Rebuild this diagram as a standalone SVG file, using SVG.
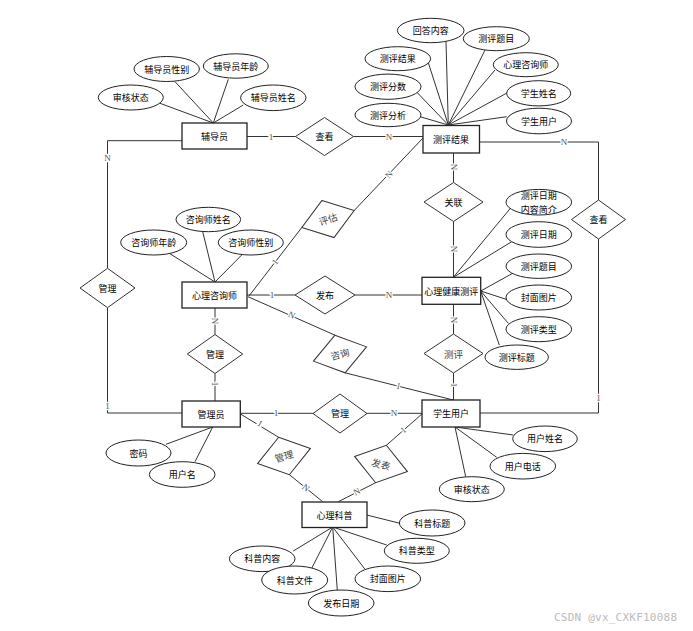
<svg xmlns="http://www.w3.org/2000/svg" width="693" height="631" viewBox="0 0 693 631">
<style>
.ln{stroke:#333;stroke-width:1;fill:none}
.ent{fill:#fff;stroke:#222;stroke-width:1.3}
.att{fill:#fff;stroke:#222;stroke-width:1}
.rel{fill:#fff;stroke:#333;stroke-width:1}
.t{font-family:"Noto Sans CJK SC","Noto Sans CJK TC",sans-serif;font-size:9px;fill:#000;text-anchor:middle;dominant-baseline:central}
.te{font-family:"Noto Sans CJK SC","Noto Sans CJK TC",sans-serif;font-size:9px;fill:#000;text-anchor:middle;dominant-baseline:central}
.tr{font-family:"Noto Sans CJK SC","Noto Sans CJK TC",sans-serif;font-size:9.5px;fill:#444;text-anchor:middle;dominant-baseline:central}
.lb{font-family:"Liberation Serif",serif;font-size:9px;fill:#555;text-anchor:middle;dominant-baseline:central;stroke:#fff;stroke-width:2.5;paint-order:stroke}
.wm{font-family:"DejaVu Sans Mono",monospace;font-size:11px;fill:#bbb}
</style>
<rect width="693" height="631" fill="#fff"/>
<g id="connectors">
<line class="ln" x1="213.3" y1="123" x2="160" y2="103.3"/>
<line class="ln" x1="213.3" y1="123" x2="175" y2="81.7"/>
<line class="ln" x1="213.3" y1="123" x2="228.3" y2="79.3"/>
<line class="ln" x1="213.3" y1="123" x2="243.3" y2="105"/>
<line class="ln" x1="448.3" y1="125" x2="446" y2="41.7"/>
<line class="ln" x1="448.3" y1="125" x2="485" y2="50"/>
<line class="ln" x1="448.3" y1="125" x2="428.3" y2="62.7"/>
<line class="ln" x1="448.3" y1="125" x2="495" y2="70"/>
<line class="ln" x1="448.3" y1="125" x2="417.3" y2="92.7"/>
<line class="ln" x1="448.3" y1="125" x2="509.3" y2="91.7"/>
<line class="ln" x1="448.3" y1="125" x2="420" y2="116.7"/>
<line class="ln" x1="448.3" y1="125" x2="506.7" y2="116.7"/>
<line class="ln" x1="215" y1="282" x2="202.7" y2="231.7"/>
<line class="ln" x1="215" y1="282" x2="169.3" y2="253.3"/>
<line class="ln" x1="215" y1="282" x2="241.7" y2="255"/>
<line class="ln" x1="453.3" y1="277.3" x2="511.7" y2="206.7"/>
<line class="ln" x1="453.3" y1="277.3" x2="511.7" y2="241.7"/>
<line class="ln" x1="480.7" y1="291" x2="512.7" y2="273.3"/>
<line class="ln" x1="480.7" y1="291" x2="508.3" y2="300"/>
<line class="ln" x1="480.7" y1="291" x2="508.3" y2="323.3"/>
<line class="ln" x1="480.7" y1="291" x2="499.3" y2="345"/>
<line class="ln" x1="212.7" y1="427" x2="166" y2="444.3"/>
<line class="ln" x1="212.7" y1="427" x2="195" y2="461.7"/>
<line class="ln" x1="455" y1="427" x2="513.3" y2="435"/>
<line class="ln" x1="455" y1="427" x2="496.7" y2="457.3"/>
<line class="ln" x1="455" y1="427" x2="465.7" y2="476.7"/>
<line class="ln" x1="366.7" y1="515" x2="400" y2="523.3"/>
<line class="ln" x1="332.7" y1="527" x2="386.7" y2="545"/>
<line class="ln" x1="332.7" y1="527" x2="365" y2="569.3"/>
<line class="ln" x1="332.7" y1="527" x2="293.3" y2="551"/>
<line class="ln" x1="332.7" y1="527" x2="311.7" y2="568.3"/>
<line class="ln" x1="332.7" y1="527" x2="337.3" y2="590"/>
<line class="ln" x1="247" y1="136.5" x2="295.5" y2="136.5"/>
<line class="ln" x1="353.5" y1="136.5" x2="423" y2="136.5"/>
<line class="ln" x1="453.5" y1="153" x2="453.5" y2="182.5"/>
<line class="ln" x1="453.5" y1="221.5" x2="453.5" y2="277"/>
<line class="ln" x1="453.5" y1="304" x2="453.5" y2="334"/>
<line class="ln" x1="453.5" y1="373" x2="453.5" y2="400"/>
<polyline class="ln" points="479,142 598.5,142 598.5,200"/>
<polyline class="ln" points="598.5,239 598.5,413 480,413"/>
<polyline class="ln" points="182,140.7 107.5,140.7 107.5,268.3"/>
<polyline class="ln" points="107.5,307.7 107.5,413 182,413"/>
<line class="ln" x1="247" y1="295" x2="295" y2="295"/>
<line class="ln" x1="355" y1="295" x2="422" y2="295"/>
<line class="ln" x1="215" y1="308" x2="215" y2="334.5"/>
<line class="ln" x1="215" y1="373.5" x2="215" y2="401"/>
<line class="ln" x1="240" y1="413.3" x2="313" y2="413.3"/>
<line class="ln" x1="367" y1="413.3" x2="422" y2="413.3"/>
<line class="ln" x1="249" y1="296" x2="301.8" y2="227.5"/>
<line class="ln" x1="354.2" y1="210.5" x2="423" y2="138"/>
<line class="ln" x1="248" y1="296.7" x2="335" y2="335.2"/>
<line class="ln" x1="345" y1="372.8" x2="453.3" y2="400"/>
<line class="ln" x1="240.5" y1="414" x2="278.6" y2="437.3"/>
<line class="ln" x1="289.4" y1="474.7" x2="322.7" y2="501.7"/>
<line class="ln" x1="422.7" y1="413.3" x2="386.4" y2="445.3"/>
<line class="ln" x1="375.6" y1="482.7" x2="338.3" y2="501.7"/>
<text class="lb" x="271" y="136.5">1</text>
<text class="lb" x="389" y="136.5">N</text>
<text class="lb" x="564" y="142">N</text>
<text class="lb" x="598.5" y="398">1</text>
<text class="lb" x="107.5" y="158">N</text>
<text class="lb" x="107.5" y="406">1</text>
<text class="lb" transform="translate(453.5,167) rotate(90)">N</text>
<text class="lb" transform="translate(453.5,249) rotate(90)">N</text>
<text class="lb" transform="translate(453.5,320) rotate(90)">N</text>
<text class="lb" transform="translate(453.5,385) rotate(90)">1</text>
<text class="lb" transform="translate(215,321) rotate(90)">N</text>
<text class="lb" transform="translate(215,384) rotate(90)">1</text>
<text class="lb" x="272" y="295">1</text>
<text class="lb" x="389" y="295">N</text>
<text class="lb" x="276" y="413.3">1</text>
<text class="lb" x="394" y="413.3">N</text>
<text class="lb" transform="translate(275,262) rotate(-52)">1</text>
<text class="lb" transform="translate(389,174.5) rotate(-47)">N</text>
<text class="lb" transform="translate(291.7,315) rotate(24)">N</text>
<text class="lb" transform="translate(398.3,386) rotate(14)">1</text>
<text class="lb" transform="translate(260,423.3) rotate(32)">1</text>
<text class="lb" transform="translate(306,487.7) rotate(39)">N</text>
<text class="lb" transform="translate(403.3,430) rotate(-41)">1</text>
<text class="lb" transform="translate(356.7,491.7) rotate(-27)">N</text>
</g>
<g id="e-fudaoyuan"><rect class="ent" x="182" y="123" width="65" height="26"/><text class="te" x="214.5" y="136">辅导员</text></g>
<g id="e-cepingjieguo"><rect class="ent" x="423" y="125.5" width="56.5" height="27.5"/><text class="te" x="451" y="139">测评结果</text></g>
<g id="e-zixunshi"><rect class="ent" x="182" y="282" width="65" height="26"/><text class="te" x="214.5" y="295">心理咨询师</text></g>
<g id="e-ceping"><rect class="ent" x="422" y="277.3" width="58.7" height="27"/><text class="te" x="451.3" y="291">心理健康测评</text></g>
<g id="e-guanliyuan"><rect class="ent" x="182" y="401" width="58.3" height="26"/><text class="te" x="211" y="414">管理员</text></g>
<g id="e-xuesheng"><rect class="ent" x="422" y="400" width="58" height="27"/><text class="te" x="451" y="413.5">学生用户</text></g>
<g id="e-kepu"><rect class="ent" x="302" y="502" width="65" height="25.5"/><text class="te" x="334.5" y="515">心理科普</text></g>
<g id="r-chakan1"><polygon class="rel" points="324.5,117.5 353.5,136.5 324.5,155.5 295.5,136.5"/><text class="te" x="324.5" y="136.5">查看</text></g>
<g id="r-guanlian"><polygon class="rel" points="453.5,182.5 483,202 453.5,221.5 424,202"/><text class="te" x="453.5" y="202">关联</text></g>
<g id="r-ceping"><polygon class="rel" points="453.5,334 483,353.5 453.5,373 424,353.5"/><text class="tr" x="453.5" y="353.5">测评</text></g>
<g id="r-chakan2"><polygon class="rel" points="598.5,200 625.5,219.5 598.5,239 571.5,219.5"/><text class="te" x="598.5" y="219.5">查看</text></g>
<g id="r-guanli1"><polygon class="rel" points="107.5,268.3 135,288 107.5,307.7 80,288"/><text class="te" x="107.5" y="288">管理</text></g>
<g id="r-fabu"><polygon class="rel" points="325,276 355,295 325,314 295,295"/><text class="te" x="325" y="295">发布</text></g>
<g id="r-guanli2"><polygon class="rel" points="215,334.5 242.7,354 215,373.5 187.3,354"/><text class="te" x="215" y="354">管理</text></g>
<g id="r-guanli3"><polygon class="rel" points="340,394 367,413.5 340,433 313,413.5"/><text class="te" x="340" y="413.5">管理</text></g>
<g id="r-pinggu" transform="translate(328,219) rotate(-18)"><polygon class="rel" points="0,-19.5 27.5,0 0,19.5 -27.5,0"/><text class="tr" x="0" y="0">评估</text></g>
<g id="r-zixun" transform="translate(340,354) rotate(-15)"><polygon class="rel" points="0,-19.5 27.5,0 0,19.5 -27.5,0"/><text class="tr" x="0" y="0">咨询</text></g>
<g id="r-guanli4" transform="translate(284,456) rotate(-16)"><polygon class="rel" points="0,-19.5 27.5,0 0,19.5 -27.5,0"/><text class="tr" x="0" y="0">管理</text></g>
<g id="r-fabiao" transform="translate(381,464) rotate(16)"><polygon class="rel" points="0,-19.5 27.5,0 0,19.5 -27.5,0"/><text class="tr" x="0" y="0">发表</text></g>
<g id="a-fdy-xb"><ellipse class="att" cx="166.7" cy="69" rx="32.7" ry="12.5"/><text class="t" x="166.7" y="69">辅导员性别</text></g>
<g id="a-fdy-nl"><ellipse class="att" cx="235.8" cy="66" rx="32.5" ry="12.2"/><text class="t" x="235.8" y="66">辅导员年龄</text></g>
<g id="a-fdy-sh"><ellipse class="att" cx="130.8" cy="97.5" rx="32.5" ry="12.5"/><text class="t" x="130.8" y="97.5">审核状态</text></g>
<g id="a-fdy-xm"><ellipse class="att" cx="273.3" cy="97.8" rx="32.7" ry="12.8"/><text class="t" x="273.3" y="97.8">辅导员姓名</text></g>
<g id="a-jg-hd"><ellipse class="att" cx="430.7" cy="30.5" rx="33.3" ry="12.2"/><text class="t" x="430.7" y="30.5">回答内容</text></g>
<g id="a-jg-tm"><ellipse class="att" cx="496.3" cy="38.7" rx="33" ry="12"/><text class="t" x="496.3" y="38.7">测评题目</text></g>
<g id="a-jg-jg"><ellipse class="att" cx="397.8" cy="58.7" rx="32.8" ry="12"/><text class="t" x="397.8" y="58.7">测评结果</text></g>
<g id="a-jg-zxs"><ellipse class="att" cx="525.8" cy="64.7" rx="32.5" ry="12"/><text class="t" x="525.8" y="64.7">心理咨询师</text></g>
<g id="a-jg-fs"><ellipse class="att" cx="388" cy="86.7" rx="33" ry="12.6"/><text class="t" x="388" y="86.7">测评分数</text></g>
<g id="a-jg-xm"><ellipse class="att" cx="538.7" cy="93.3" rx="32" ry="12.6"/><text class="t" x="538.7" y="93.3">学生姓名</text></g>
<g id="a-jg-fx"><ellipse class="att" cx="388" cy="115" rx="33" ry="11.7"/><text class="t" x="388" y="115">测评分析</text></g>
<g id="a-jg-yh"><ellipse class="att" cx="539" cy="121" rx="32.5" ry="12.8"/><text class="t" x="539" y="121">学生用户</text></g>
<g id="a-zxs-xm"><ellipse class="att" cx="208.3" cy="219.5" rx="32.3" ry="12.2"/><text class="t" x="208.3" y="219.5">咨询师姓名</text></g>
<g id="a-zxs-nl"><ellipse class="att" cx="153.7" cy="242.5" rx="33" ry="12.5"/><text class="t" x="153.7" y="242.5">咨询师年龄</text></g>
<g id="a-zxs-xb"><ellipse class="att" cx="250.8" cy="242.5" rx="32.5" ry="12.5"/><text class="t" x="250.8" y="242.5">咨询师性别</text></g>
<g id="a-cp-jj"><ellipse class="att" cx="538.8" cy="202.2" rx="32.8" ry="12.8"/><text class="t" x="538.8" y="195.5">测评日期</text><text class="t" x="538.8" y="209.5">内容简介</text></g>
<g id="a-cp-rq"><ellipse class="att" cx="538.8" cy="234.5" rx="32.8" ry="12.8"/><text class="t" x="538.8" y="234.5">测评日期</text></g>
<g id="a-cp-tm"><ellipse class="att" cx="538.8" cy="266.2" rx="32.8" ry="12.2"/><text class="t" x="538.8" y="266.2">测评题目</text></g>
<g id="a-cp-fm"><ellipse class="att" cx="538.8" cy="297.5" rx="32.8" ry="12.5"/><text class="t" x="538.8" y="297.5">封面图片</text></g>
<g id="a-cp-lx"><ellipse class="att" cx="538.8" cy="329.2" rx="32.8" ry="12.5"/><text class="t" x="538.8" y="329.2">测评类型</text></g>
<g id="a-cp-bt"><ellipse class="att" cx="516.7" cy="357.2" rx="31.7" ry="12.2"/><text class="t" x="516.7" y="357.2">测评标题</text></g>
<g id="a-gly-mm"><ellipse class="att" cx="138.5" cy="453" rx="32.5" ry="13"/><text class="t" x="138.5" y="453">密码</text></g>
<g id="a-gly-yhm"><ellipse class="att" cx="182.2" cy="474.5" rx="32.8" ry="12.8"/><text class="t" x="182.2" y="474.5">用户名</text></g>
<g id="a-xs-xm"><ellipse class="att" cx="545" cy="438.8" rx="32.3" ry="12.8"/><text class="t" x="545" y="438.8">用户姓名</text></g>
<g id="a-xs-dh"><ellipse class="att" cx="522.8" cy="466.2" rx="32.8" ry="12.8"/><text class="t" x="522.8" y="466.2">用户电话</text></g>
<g id="a-xs-sh"><ellipse class="att" cx="471.8" cy="489.2" rx="32.5" ry="12.5"/><text class="t" x="471.8" y="489.2">审核状态</text></g>
<g id="a-kp-bt"><ellipse class="att" cx="432.2" cy="523" rx="32.8" ry="13"/><text class="t" x="432.2" y="523">科普标题</text></g>
<g id="a-kp-lx"><ellipse class="att" cx="416.8" cy="550.8" rx="32.5" ry="12.5"/><text class="t" x="416.8" y="550.8">科普类型</text></g>
<g id="a-kp-fm"><ellipse class="att" cx="387.8" cy="578.8" rx="32.8" ry="12.8"/><text class="t" x="387.8" y="578.8">封面图片</text></g>
<g id="a-kp-nr"><ellipse class="att" cx="262.2" cy="558.8" rx="32.8" ry="12.8"/><text class="t" x="262.2" y="558.8">科普内容</text></g>
<g id="a-kp-wj"><ellipse class="att" cx="294.7" cy="580" rx="33" ry="14"/><text class="t" x="294.7" y="580">科普文件</text></g>
<g id="a-kp-rq"><ellipse class="att" cx="341.2" cy="603" rx="32.8" ry="13"/><text class="t" x="341.2" y="603">发布日期</text></g>
<text class="wm" x="554" y="621" textLength="123">CSDN @vx_CXKF10088</text>
</svg>
